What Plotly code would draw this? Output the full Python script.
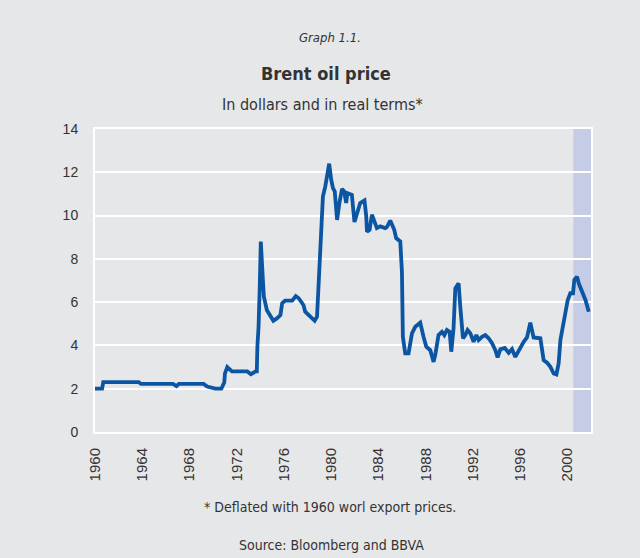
import plotly.graph_objects as go

years = [1960.0, 1960.6, 1960.7, 1963.7, 1963.9, 1966.6, 1966.9, 1967.1, 1969.2, 1969.5,
         1970.2, 1970.7, 1970.95, 1971.0, 1971.2, 1971.6, 1972.9, 1973.2, 1973.6, 1973.7,
         1973.75, 1973.85, 1973.95, 1974.04, 1974.2, 1974.3, 1974.55, 1974.85, 1975.1, 1975.4,
         1975.7, 1975.85, 1976.1, 1976.7, 1977.0, 1977.25, 1977.65, 1977.8, 1978.1, 1978.4,
         1978.6, 1978.8, 1978.92, 1979.0, 1979.2, 1979.3, 1979.5, 1979.6, 1979.83, 1980.0,
         1980.15, 1980.3, 1980.5, 1980.7, 1980.92, 1981.1, 1981.27, 1981.37, 1981.75, 1981.97,
         1982.18, 1982.46, 1982.82, 1982.97, 1983.03, 1983.25, 1983.45, 1983.67, 1983.87, 1984.15,
         1984.58, 1984.72, 1985.0, 1985.34, 1985.5, 1985.85, 1985.99, 1986.07, 1986.27, 1986.55,
         1986.84, 1987.12, 1987.54, 1987.82, 1988.05, 1988.39, 1988.67, 1988.81, 1989.09, 1989.38,
         1989.58, 1989.8, 1990.03, 1990.17, 1990.36, 1990.51, 1990.79, 1990.93, 1991.16, 1991.36,
         1991.55, 1991.78, 1992.06, 1992.29, 1992.48, 1992.77, 1993.05, 1993.33, 1993.62, 1993.9,
         1994.09, 1994.32, 1994.7, 1995.03, 1995.31, 1995.59, 1995.87, 1996.3, 1996.58, 1996.86,
         1997.14, 1997.43, 1997.71, 1997.99, 1998.28, 1998.56, 1998.84, 1999.07, 1999.26, 1999.41,
         1999.64, 1999.83, 2000.03, 2000.25, 2000.48, 2000.59, 2000.82, 2000.96, 2001.25, 2001.53,
         2001.81]
price = [2.0, 2.0, 2.3, 2.3, 2.22, 2.22, 2.12, 2.22, 2.22, 2.1,
         2.0, 2.0, 2.3, 2.7, 3.0, 2.8, 2.8, 2.67, 2.8, 2.8,
         3.94, 4.86, 6.7, 8.8, 7.18, 6.25, 5.64, 5.33, 5.14, 5.25,
         5.4, 5.95, 6.07, 6.07, 6.28, 6.18, 5.87, 5.56, 5.4, 5.25,
         5.14, 5.33, 6.56, 7.95, 9.19, 10.88, 11.35, 11.66, 12.4, 11.66,
         11.27, 11.12, 9.8, 10.6, 11.23, 11.12, 10.58, 11.04, 10.96, 9.7,
         10.12, 10.58, 10.7, 9.96, 9.26, 9.34, 10.04, 9.73, 9.42, 9.5,
         9.42, 9.47, 9.77, 9.34, 8.96, 8.8, 7.4, 4.4, 3.63, 3.63,
         4.56, 4.86, 5.05, 4.4, 3.94, 3.78, 3.24, 3.55, 4.48, 4.63,
         4.48, 4.71, 4.63, 3.71, 4.79, 6.64, 6.87, 5.79, 4.33, 4.48,
         4.71, 4.56, 4.17, 4.48, 4.25, 4.4, 4.48, 4.33, 4.1, 3.78,
         3.45, 3.82, 3.88, 3.66, 3.83, 3.47, 3.78, 4.17, 4.37, 5.05,
         4.37, 4.37, 4.33, 3.32, 3.2, 3.01, 2.7, 2.66, 3.17, 4.25,
         4.94, 5.48, 6.1, 6.41, 6.41, 7.03, 7.18, 6.87, 6.48, 6.1,
         5.56]

tick_years = [1960, 1964, 1968, 1972, 1976, 1980, 1984, 1988, 1992, 1996, 2000]
y_ticks = [0, 2, 4, 6, 8, 10, 12, 14]
band = [2000.5, 2002.0]

BG = "#e6e7e9"
TXT = "#333333"
COND = "Liberation Sans Narrow, DejaVu Sans Condensed"

W, H = 640, 558
L, R, T, B = 95, 49, 129, 126
plot_h = H - T - B
plot_w = W - L - R


def py(pix_y):
    return (H - pix_y - B) / plot_h


def px(pix_x):
    return (pix_x - L) / plot_w


fig = go.Figure()
fig.add_trace(go.Scatter(x=years, y=price, mode="lines",
                         line=dict(color="#0b55a3", width=3.8), hoverinfo="skip"))

fig.add_shape(type="rect", xref="x", yref="paper", x0=band[0], x1=band[1], y0=0, y1=1,
              fillcolor="#c6cce6", line=dict(width=0), layer="below")

fig.update_layout(
    width=W, height=H,
    paper_bgcolor=BG, plot_bgcolor=BG,
    margin=dict(l=L, r=R, t=T, b=B),
    showlegend=False,
    font=dict(family="Liberation Sans, Arial", color=TXT, size=13),
    xaxis=dict(range=[1960, 2002], tickvals=tick_years, ticktext=[str(t) for t in tick_years],
               tickangle=-90, showgrid=False, zeroline=False, showline=True, linecolor="white",
               linewidth=2, mirror=True, ticks="", ticklabelstandoff=8,
               tickfont=dict(size=15, color=TXT)),
    yaxis=dict(range=[0, 14], tickvals=y_ticks, showgrid=True, gridcolor="white", gridwidth=2,
               zeroline=False, showline=True, linecolor="white", linewidth=2, mirror=True,
               ticks="", ticklabelstandoff=12, tickfont=dict(size=14, color=TXT)),
    annotations=[
        dict(text="<i>Graph 1.1.</i>", x=px(330), y=py(37), xref="paper", yref="paper",
             yanchor="middle", showarrow=False, font=dict(size=13, family=COND, color=TXT)),
        dict(text="<b>Brent oil price</b>", x=px(326), y=py(73), xref="paper", yref="paper",
             yanchor="middle", showarrow=False, font=dict(size=18, family=COND, color=TXT)),
        dict(text="In dollars and in real terms*", x=px(322), y=py(104), xref="paper", yref="paper",
             yanchor="middle", showarrow=False, font=dict(size=16, family=COND, color=TXT)),
        dict(text="* Deflated with 1960 worl export prices.", x=px(330), y=py(507), xref="paper",
             yref="paper", yanchor="middle", showarrow=False, font=dict(size=14, family=COND, color=TXT)),
        dict(text="Source: Bloomberg and BBVA", x=px(331), y=py(545), xref="paper", yref="paper",
             yanchor="middle", showarrow=False, font=dict(size=14, family=COND, color=TXT)),
    ],
)

fig.write_html("out.html")
